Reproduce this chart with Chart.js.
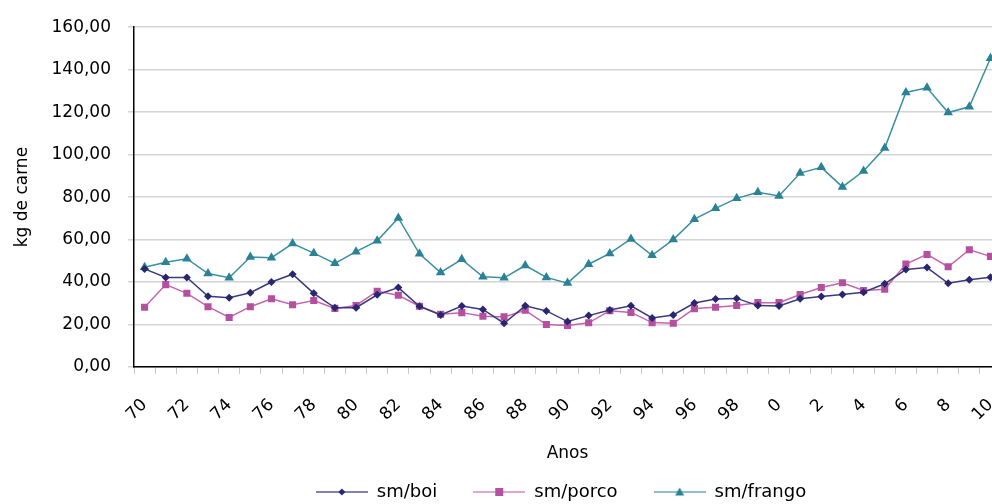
<!DOCTYPE html>
<html>
<head>
<meta charset="utf-8">
<script src="https://cdn.jsdelivr.net/npm/chart.js@4.4.1/dist/chart.umd.min.js"></script>
<style>
  html, body { margin: 0; padding: 0; background: #fff; overflow: hidden; }
  #wrap { width: 992px; height: 504px; overflow: hidden; position: relative; }
  canvas { position: absolute; left: 0; top: 0; }
</style>
</head>
<body>
<div id="wrap"><canvas id="chart" width="1026" height="504"></canvas></div>
<script>
const anos = ['70','71','72','73','74','75','76','77','78','79',
              '80','81','82','83','84','85','86','87','88','89',
              '90','91','92','93','94','95','96','97','98','99',
              '0','1','2','3','4','5','6','7','8','9','10']

const smBoi = [46.2, 42.2, 42.2, 33.3, 32.6, 35.0, 40.0, 43.7, 34.7, 27.9,
               27.9, 34.0, 37.4, 28.6, 24.5, 28.7, 27.1, 20.6, 28.8, 26.4,
               21.4, 24.2, 26.8, 28.8, 23.1, 24.5, 30.1, 32.0, 32.3, 28.9,
               28.7, 32.1, 33.2, 34.1, 35.2, 39.2, 45.9, 46.8, 39.4, 41.1, 42.3]

const smPorco = [28.1, 38.8, 34.7, 28.4, 23.3, 28.4, 32.1, 29.3, 31.3, 27.6,
                 29.0, 35.7, 33.8, 28.6, 24.8, 25.6, 23.9, 23.6, 26.7, 20.0,
                 19.5, 20.8, 26.5, 25.7, 20.9, 20.6, 27.5, 28.1, 29.0, 30.3,
                 30.3, 34.1, 37.4, 39.7, 36.0, 36.6, 48.5, 53.0, 47.2, 55.2, 52.1]

const smFrango = [47.0, 49.3, 51.0, 44.0, 42.0, 51.8, 51.5, 58.1, 53.6, 48.8,
                  54.3, 59.4, 70.2, 53.3, 44.5, 50.7, 42.5, 42.0, 47.8, 42.2,
                  39.5, 48.4, 53.5, 60.3, 52.6, 60.0, 69.6, 74.7, 79.4, 82.3,
                  80.5, 91.3, 94.0, 84.8, 92.3, 103.1, 129.3, 131.5, 119.8, 122.5, 145.4]

const FONT = 'DejaVu Sans'

// legend icon: short line with the marker in the middle
const legendIcon = (lineColor, markColor, shape) => {
    const c = document.createElement('canvas')
    c.width = 52
    c.height = 12
    const g = c.getContext('2d')
    g.strokeStyle = lineColor
    g.lineWidth = 1.5
    g.beginPath()
    g.moveTo(0, 6)
    g.lineTo(52, 6)
    g.stroke()
    g.fillStyle = markColor
    g.beginPath()
    if (shape === 'diamond') {
        g.moveTo(26, 2.5); g.lineTo(29.5, 6); g.lineTo(26, 9.5); g.lineTo(22.5, 6)
    } else if (shape === 'square') {
        g.rect(22, 2, 8, 8)
    } else {
        g.moveTo(26, 1.5); g.lineTo(30.5, 9.5); g.lineTo(21.5, 9.5)
    }
    g.closePath()
    g.fill()
    return c
}

// short legend box, shifted right like the reference
const legendTweak = {
    id: 'legendTweak',
    afterInit: (chart) => {
        const lg = chart.legend
        if (!lg) return
        const fit = lg.fit
        lg.fit = function () {
            fit.call(this)
            this.height = 57
        }
    },
    afterLayout: (chart) => {
        if (chart.legend) chart.legend.left += 105
    }
}

const render = () => {
    new Chart(document.getElementById('chart'), {
        type: 'line',
        data: {
            labels: anos,
            datasets: [{
                label: 'sm/boi',
                data: smBoi,
                borderColor: '#3a3a80',
                backgroundColor: '#27266e',
                borderWidth: 1.5,
                pointStyle: 'rectRot',
                pointRadius: 4,
                pointBorderWidth: 0,
                tension: 0
            }, {
                label: 'sm/porco',
                data: smPorco,
                borderColor: '#c366b0',
                backgroundColor: '#b54fa0',
                borderWidth: 1.5,
                pointStyle: 'rect',
                pointRadius: 5,
                pointBorderWidth: 0,
                tension: 0
            }, {
                label: 'sm/frango',
                data: smFrango,
                borderColor: '#3a8fa3',
                backgroundColor: '#2a8296',
                borderWidth: 1.5,
                pointStyle: 'triangle',
                pointRadius: 5.5,
                pointBorderWidth: 0,
                tension: 0
            }]
        },
        plugins: [legendTweak],
        options: {
            responsive: false,
            devicePixelRatio: 1,
            animation: false,
            layout: { padding: { top: 23, left: 0, right: 9, bottom: 0 } },
            plugins: {
                tooltip: { enabled: false },
                legend: {
                    position: 'bottom',
                    labels: {
                        usePointStyle: true,
                        pointStyleWidth: 52,
                        padding: 36,
                        color: '#000',
                        font: { family: FONT, size: 18 },
                        generateLabels: (chart) => {
                            const icons = [
                                legendIcon('#5a5a98', '#27266e', 'diamond'),
                                legendIcon('#d08cc4', '#b54fa0', 'square'),
                                legendIcon('#6aaebd', '#2a8296', 'triangle')
                            ]
                            return chart.data.datasets.map((ds, i) => ({
                                text: ds.label,
                                pointStyle: icons[i],
                                fillStyle: ds.backgroundColor,
                                strokeStyle: ds.borderColor,
                                lineWidth: 0,
                                hidden: false,
                                datasetIndex: i
                            }))
                        }
                    }
                }
            },
            scales: {
                x: {
                    offset: true,
                    grid: {
                        offset: true,
                        drawOnChartArea: false,
                        tickLength: 7,
                        tickColor: '#c8c8c8'
                    },
                    border: { color: '#000', width: 1.5 },
                    ticks: {
                        autoSkip: false,
                        minRotation: 45,
                        maxRotation: 45,
                        padding: 21,
                        color: '#000',
                        font: { family: FONT, size: 17 },
                        callback: (val, i) => i % 2 === 0 ? anos[i] : ''
                    },
                    title: {
                        display: true,
                        text: 'Anos',
                        color: '#000',
                        font: { family: FONT, size: 17 },
                        padding: { top: 0, bottom: -17 }
                    },
                    afterFit: (scale) => { scale.height = 80 }
                },
                y: {
                    min: 0,
                    max: 160,
                    ticks: {
                        stepSize: 20,
                        padding: 17,
                        color: '#000',
                        font: { family: FONT, size: 17 },
                        callback: (v) => v.toFixed(2).replace('.', ',')
                    },
                    grid: {
                        color: '#d4d4d4',
                        tickColor: '#d4d4d4',
                        tickLength: 6,
                        lineWidth: 1.5
                    },
                    border: { color: '#000', width: 1.5 },
                    title: {
                        display: true,
                        text: 'kg de carne',
                        color: '#000',
                        font: { family: FONT, size: 17 },
                        padding: { top: 12, bottom: 0 }
                    },
                    afterFit: (scale) => { scale.width = 134 }
                }
            }
        }
    })
}

document.addEventListener('DOMContentLoaded', render)
</script>
</body>
</html>
